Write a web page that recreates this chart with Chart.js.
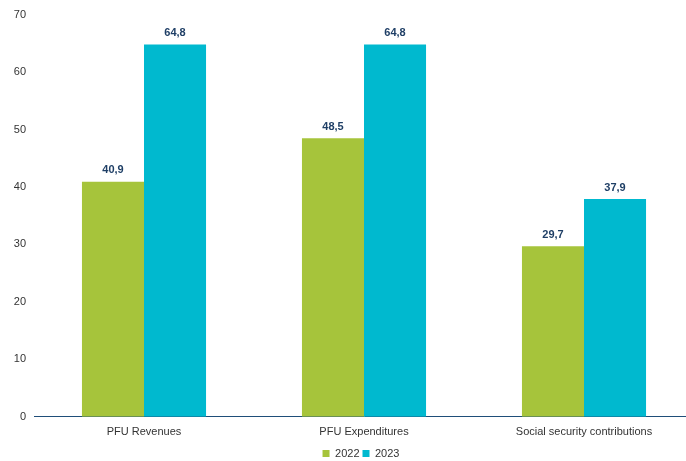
<!DOCTYPE html>
<html>
<head>
<meta charset="utf-8">
<script src="https://cdn.jsdelivr.net/npm/chart.js@4/dist/chart.umd.min.js"></script>
<style>
  html, body { margin: 0; padding: 0; background: #fff; overflow: hidden; }
  #wrap { width: 686px; height: 461px; overflow: hidden; }
</style>
</head>
<body>
<div id="wrap"><canvas id="chart" width="718" height="461"></canvas></div>
<script>
const categories = ['PFU Revenues', 'PFU Expenditures', 'Social security contributions'];
const values2022 = [40.9, 48.5, 29.7];
const values2023 = [64.8, 64.8, 37.9];
const yTicks = [0, 10, 20, 30, 40, 50, 60, 70];

// draws the value above each bar, comma as decimal sign
const barLabels = {
  id: 'barLabels',
  afterDatasetsDraw(chart) {
    const ctx = chart.ctx;
    ctx.save();
    ctx.font = 'bold 11px "Liberation Sans", Arial, sans-serif';
    ctx.fillStyle = '#1f3f66';
    ctx.textAlign = 'center';
    ctx.textBaseline = 'bottom';
    chart.data.datasets.forEach((ds, i) => {
      chart.getDatasetMeta(i).data.forEach((bar, j) => {
        ctx.fillText(ds.data[j].toFixed(1).replace('.', ','), bar.x, bar.y - 6);
      });
    });
    ctx.restore();
  }
};

// original legend sits a bit right of the chart middle and tight under the labels
const legendShift = {
  id: 'legendShift',
  afterLayout(chart) {
    const lg = chart.legend;
    lg.left += 14;
    lg.right += 14;
    lg.top -= 3;
    lg.bottom -= 3;
  }
};

new Chart(document.getElementById('chart'), {
  type: 'bar',
  data: {
    labels: categories,
    datasets: [
      { label: '2022', data: values2022, backgroundColor: '#a6c43b' },
      { label: '2023', data: values2023, backgroundColor: '#00b9cf' }
    ]
  },
  options: {
    responsive: false,
    animation: false,
    layout: { padding: { top: 8, right: 24, left: 0, bottom: -11 } },
    datasets: { bar: { categoryPercentage: 0.564, barPercentage: 1.0 } },
    plugins: {
      tooltip: { enabled: false },
      legend: {
        position: 'bottom',
        labels: {
          boxWidth: 7,
          boxHeight: 7,
          padding: 3,
          color: '#333',
          font: { family: '"Liberation Sans", Arial, sans-serif', size: 11 }
        }
      }
    },
    scales: {
      x: {
        grid: { display: false, drawTicks: false },
        border: { color: '#1f4e79', width: 1 },
        ticks: {
          color: '#333',
          padding: 9,
          font: { family: '"Liberation Sans", Arial, sans-serif', size: 11 }
        }
      },
      y: {
        min: 0,
        max: 70,
        afterBuildTicks: (scale) => { scale.ticks = yTicks.map(v => ({ value: v })); },
        afterFit: (scale) => { scale.width = 34; },
        grid: { display: false, drawTicks: false },
        border: { display: false },
        ticks: {
          color: '#333',
          padding: 8,
          font: { family: '"Liberation Sans", Arial, sans-serif', size: 11 }
        }
      }
    }
  },
  plugins: [barLabels, legendShift]
});
</script>
</body>
</html>
